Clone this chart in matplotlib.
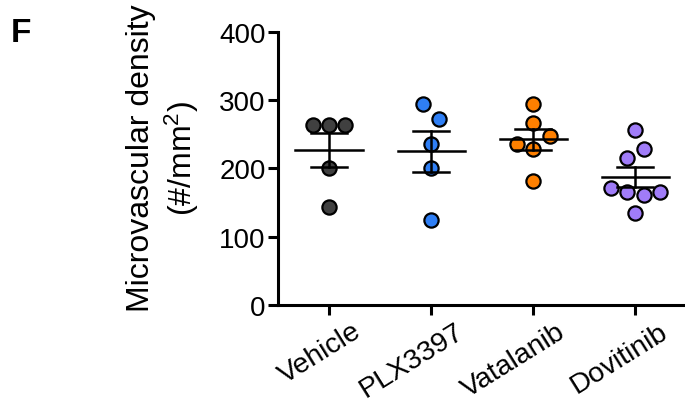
import numpy as np
import matplotlib
matplotlib.use('Agg')
import matplotlib.pyplot as plt
from matplotlib.transforms import ScaledTranslation

plt.rcParams['font.family'] = ['Liberation Sans', 'DejaVu Sans']
plt.rcParams['mathtext.default'] = 'regular'

groups = ['Vehicle', 'PLX3397', 'Vatalanib', 'Dovitinib']
vehicle = [264, 264, 264, 200, 143]
plx3397 = [294, 272, 236, 201, 124]
vatalanib = [295, 267, 236, 229, 248, 182]
dovitinib = [257, 215, 228, 172, 165, 161, 166, 134]
values = [vehicle, plx3397, vatalanib, dovitinib]
colors = ['#404040', '#2f7ff5', '#ff8000', '#a07cf8']
yticks = [0, 100, 200, 300, 400]


def swarm_offsets(vals, row_gap=23, step=0.16):
    # group close values into rows, spread each row around the centre
    order = sorted(range(len(vals)), key=lambda i: vals[i])
    rows, cur = [], []
    for i in order:
        if cur and vals[i] - vals[cur[0]] >= row_gap:
            rows.append(cur)
            cur = []
        cur.append(i)
    rows.append(cur)
    offs = np.zeros(len(vals))
    for r in rows:
        r = sorted(r)
        n = len(r)
        for k, i in enumerate(r):
            offs[i] = (k - (n - 1) / 2) * step
    return offs


fig = plt.figure(figsize=(6.85, 4.02), dpi=100)
ax = fig.add_axes([0.406, 0.239, 0.596, 0.679])

for x, (vals, c) in enumerate(zip(values, colors)):
    vals = np.array(vals, dtype=float)
    offs = swarm_offsets(vals)
    ax.scatter(x + offs, vals, s=105, color=c, edgecolor='black',
               linewidth=1.6, zorder=3, clip_on=False)
    m = vals.mean()
    sem = vals.std(ddof=1) / np.sqrt(len(vals))
    ax.plot([x - 0.33, x + 0.33], [m, m], color='black', lw=1.8, zorder=4)
    ax.plot([x - 0.175, x + 0.175], [m + sem, m + sem], color='black', lw=1.8, zorder=4)
    ax.plot([x - 0.175, x + 0.175], [m - sem, m - sem], color='black', lw=1.8, zorder=4)
    ax.plot([x, x], [m - sem, m + sem], color='black', lw=1.8, zorder=4)

ax.set_xlim(-0.5, 3.5)
ax.set_ylim(0, 400)
ax.set_yticks(yticks)
ax.set_xticks(range(len(groups)))
ax.set_xticklabels([])

# rotated category labels, right end shifted past the tick
lab_tr = ax.get_xaxis_transform() + ScaledTranslation(0.30, -0.24, fig.dpi_scale_trans)
for i, g in enumerate(groups):
    ax.text(i, 0, g, transform=lab_tr, fontsize=20.5, rotation=32,
            ha='right', va='center', rotation_mode='anchor')

for s in ['top', 'right']:
    ax.spines[s].set_visible(False)
for s in ['left', 'bottom']:
    ax.spines[s].set_linewidth(2.2)
ax.tick_params(axis='both', width=2.2, length=7, labelsize=20)
ax.tick_params(axis='y', pad=2)

ax.set_ylabel('Microvascular density\n(#/mm$^{2}$)', fontsize=23)
ax.yaxis.set_label_coords(-0.19, 0.54)
fig.text(0.015, 0.955, 'F', fontsize=24, fontweight='bold', va='top', ha='left')

fig.savefig('out.png', dpi=100)
